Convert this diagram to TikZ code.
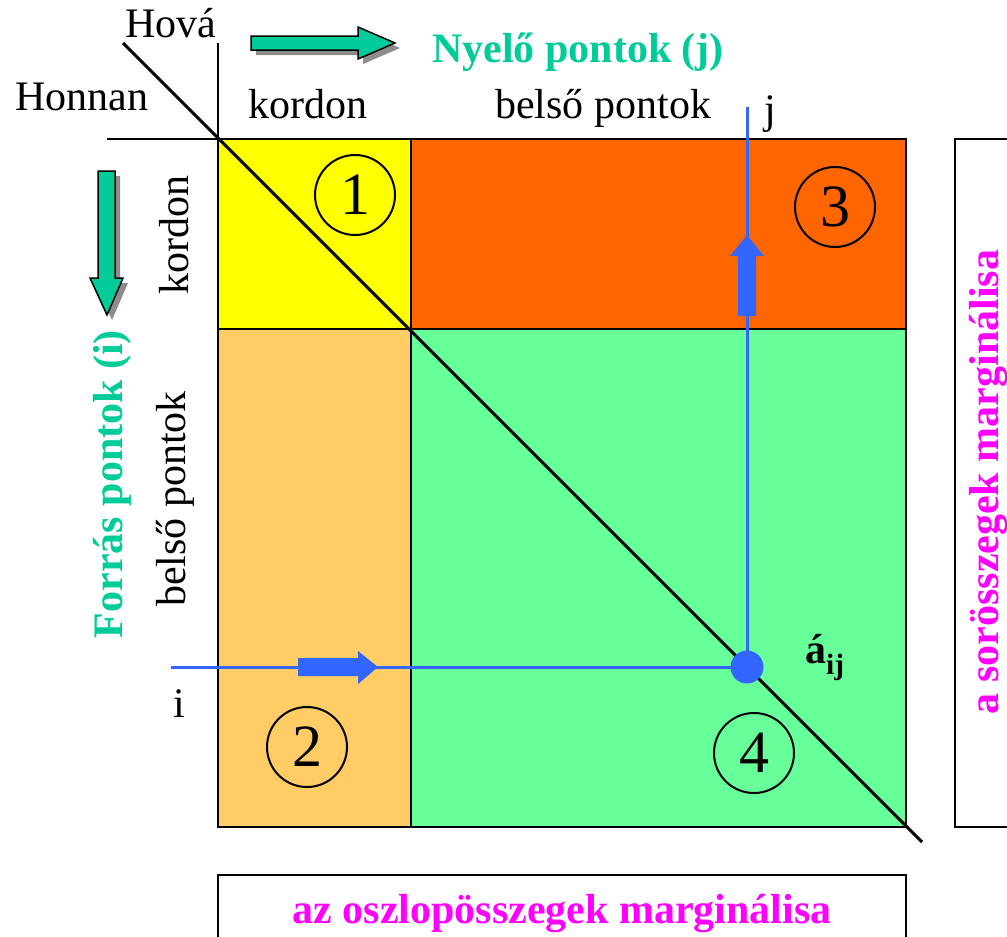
\documentclass[tikz,border=0pt]{standalone}
\usepackage{fontspec}
\setmainfont{Liberation Serif}
\newfontfamily\timesface{Liberation Serif}
\definecolor{cellA}{HTML}{FFFF00}
\definecolor{cellB}{HTML}{FF6600}
\definecolor{cellC}{HTML}{FFCC66}
\definecolor{cellD}{HTML}{66FF99}
\definecolor{teal}{HTML}{00CC99}
\definecolor{flow}{HTML}{3366FF}
\definecolor{marg}{HTML}{FF00FF}
\begin{document}
\begin{tikzpicture}[x=1pt,y=-1pt,
  lbl/.style={inner sep=0pt,font=\timesface\fontsize{42}{48}\selectfont},
  title/.style={lbl,font=\timesface\fontsize{42}{48}\selectfont\bfseries,text=teal},
  margtext/.style={lbl,font=\timesface\fontsize{42}{48}\selectfont\bfseries,text=marg},
  num/.style={circle,draw,line width=2pt,minimum size=80pt,inner sep=0pt,font=\timesface\fontsize{60}{60}\selectfont},
  grid/.style={line width=1.5pt},
  flowline/.style={draw=flow,line width=3pt},
  bigarrow/.style={fill=teal,draw=black,line width=1.5pt,line join=miter},
  shade/.style={fill=black!45}
]
\useasboundingbox (0,0) rectangle (1007,937);

% matrix corners
\coordinate (tl) at (218,139);
\coordinate (mid) at (411,329);
\coordinate (br) at (906,827);

% cell blocks
\fill[cellA] (tl) rectangle (mid);
\fill[cellB] (411,139) rectangle (906,329);
\fill[cellC] (218,329) rectangle (411,827);
\fill[cellD] (mid) rectangle (br);

% grid lines
\draw[grid] (tl) rectangle (br);
\draw[grid] (411,139) -- (411,827);
\draw[grid] (218,329) -- (906,329);
\draw[grid] (107,139) -- (tl);
\draw[grid] (218,43) -- (tl);

% diagonal
\coordinate (dstart) at (123,43);
\coordinate (dend) at (922,842);
\draw[line width=3pt] (dstart) -- (dend);

% header labels
\node[lbl,anchor=base west] (hova) at (125,37) {Hová};
\node[lbl,anchor=base west] (honnan) at (15,110) {Honnan};
\node[lbl,anchor=base west] (kordonT) at (248,118) {kordon};
\node[lbl,anchor=base west] (belsoT) at (495,118) {belső pontok};
\node[lbl,anchor=base,rotate=90] (kordonL) at (188,235) {kordon};
\node[lbl,anchor=base,rotate=90] (belsoL) at (185,499) {belső pontok};
\node[title,anchor=base west] (nyelo) at (432,62) {Nyelő pontok (j)};
\node[title,anchor=base,rotate=90] (forras) at (122,484) {Forrás pontok (i)};

% direction arrows
\fill[shade,shift={(5,5)}] (251,36) -- (358,36) -- (358,27) -- (395,43) -- (358,59) -- (358,50) -- (251,50) -- cycle;
\draw[bigarrow] (251,36) -- (358,36) -- (358,27) -- (395,43) -- (358,59) -- (358,50) -- (251,50) -- cycle;
\fill[shade,shift={(5,5)}] (98,171) -- (115,171) -- (115,278) -- (123,278) -- (107,315) -- (90,278) -- (98,278) -- cycle;
\draw[bigarrow] (98,171) -- (115,171) -- (115,278) -- (123,278) -- (107,315) -- (90,278) -- (98,278) -- cycle;

% numbered cells
\node[num] (n1) at (355,195) {1};
\node[num] (n3) at (835,207) {3};
\node[num] (n2) at (307,747) {2};
\node[num] (n4) at (754,753) {4};

% row i and column j
\coordinate (irow) at (171,667);
\coordinate (jcol) at (747,107);
\node[circle,fill=flow,minimum size=33pt,inner sep=0pt] (aij) at (747,667) {};
\draw[flowline] (irow) -- (aij.center);
\draw[flowline] (jcol) -- (aij.center);
\fill[flow] (298,658) -- (358,658) -- (358,651) -- (378,667) -- (358,684) -- (358,676) -- (298,676) -- cycle;
\fill[flow] (738,316) -- (738,256) -- (730,256) -- (747,235) -- (764,256) -- (756,256) -- (756,316) -- cycle;
\node[lbl,anchor=base west] (ilbl) at (173,717) {i};
\node[lbl,anchor=base west] (jlbl) at (764,123) {j};
\node[lbl,anchor=base west,font=\timesface\fontsize{42}{48}\selectfont\bfseries] (aijlbl) at (805,663) {á\textsubscript{ij}};

% marginal boxes
\draw[line width=2pt] (955,139) rectangle (1030,827);
\node[margtext,anchor=base,rotate=90] (rowsum) at (998,482) {a sorösszegek marginálisa};
\draw[line width=2pt] (218,875) rectangle (906,960);
\node[margtext,anchor=base] (colsum) at (562,923) {az oszlopösszegek marginálisa};
\end{tikzpicture}
\end{document}
